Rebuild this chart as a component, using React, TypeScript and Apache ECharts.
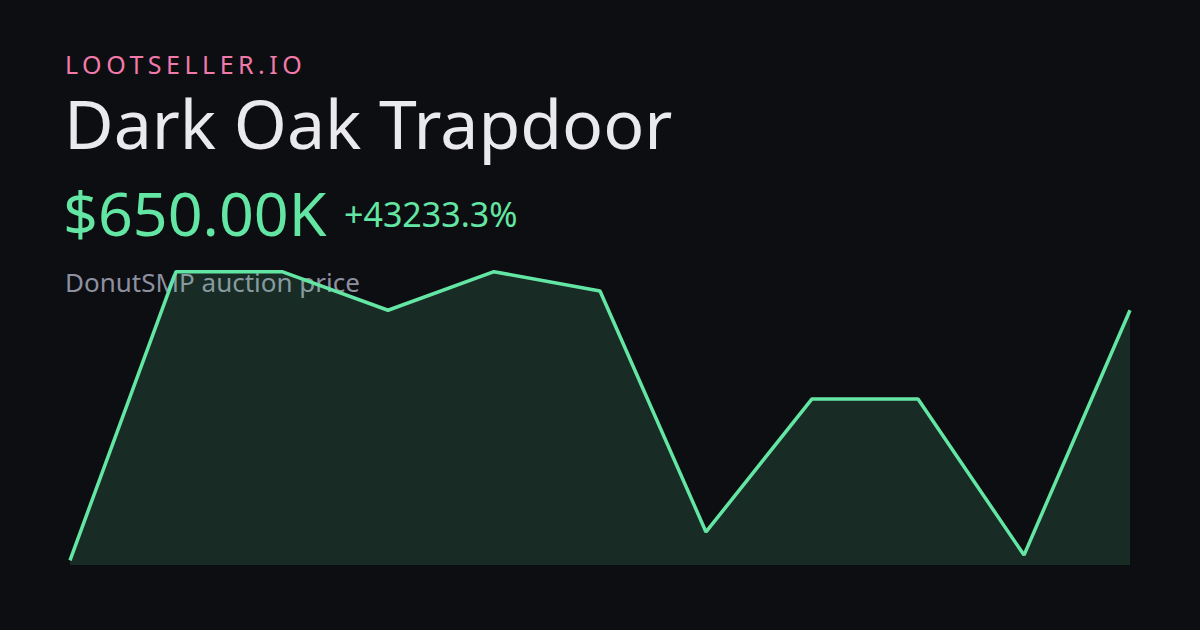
import React, { useEffect, useRef } from "react";
import * as echarts from "echarts";

const categories = ["1", "2", "3", "4", "5", "6", "7", "8", "9", "10", "11"];
const prices = [1500, 750000, 750000, 650000, 750000, 700000, 75000, 420000, 420000, 15000, 650000];
const brand = "LOOTSELLER.IO";
const itemName = "Dark Oak Trapdoor";
const priceLabel = "$650.00K";
const changeLabel = "+43233.3%";
const subLabel = "DonutSMP auction price";

const GREEN = "#63e6a4";
const FONT = "'Noto Sans', 'Open Sans', sans-serif";

export default function App() {
  const ref = useRef<HTMLDivElement>(null);
  useEffect(() => {
    if (!ref.current) return;
    const chart = echarts.init(ref.current, null, { renderer: "svg" });
    chart.setOption({
      animation: false,
      backgroundColor: "#0d0e11",
      grid: { left: 70, right: 70, top: 270, bottom: 65 },
      xAxis: {
        type: "category",
        data: categories,
        boundaryGap: false,
        show: false,
      },
      yAxis: {
        type: "value",
        min: -10700,
        max: 754400,
        show: false,
        splitLine: { show: false },
      },
      graphic: [
        {
          type: "text",
          z: 0,
          x: 65,
          y: 64,
          style: {
            text: brand,
            fill: "#f07aa9",
            font: `400 25px ${FONT}`,
            lineHeight: 22,
            verticalAlign: "middle",
          },
        },
        {
          type: "text",
          z: 0,
          x: 64,
          y: 122,
          style: {
            text: itemName,
            fill: "#e9e9ee",
            font: `400 68px ${FONT}`,
            lineHeight: 64,
            verticalAlign: "middle",
          },
        },
        {
          type: "text",
          z: 0,
          x: 63,
          y: 212,
          style: {
            text: priceLabel,
            fill: GREEN,
            font: `400 61px ${FONT}`,
            lineHeight: 58,
            verticalAlign: "middle",
          },
        },
        {
          type: "text",
          z: 0,
          x: 344,
          y: 214,
          style: {
            text: changeLabel,
            fill: GREEN,
            font: `400 34px ${FONT}`,
            lineHeight: 32,
            verticalAlign: "middle",
          },
        },
        {
          type: "text",
          z: 0,
          x: 65,
          y: 282,
          style: {
            text: subLabel,
            fill: "#8d90a0",
            font: `400 26px ${FONT}`,
            lineHeight: 26,
            verticalAlign: "middle",
          },
        },
      ],
      series: [
        {
          type: "line",
          z: 2,
          data: prices,
          symbol: "none",
          lineStyle: { color: GREEN, width: 3.5 },
          areaStyle: { color: "rgba(94,227,161,0.2)", origin: "start" },
        },
      ],
    });
    const applySpacing = () => {
      const dom = chart.getDom();
      dom.querySelectorAll("text").forEach((t) => {
        if (t.textContent === brand) t.setAttribute("letter-spacing", "4.5");
      });
    };
    applySpacing();
    chart.on("finished", applySpacing);
    return () => chart.dispose();
  }, []);
  return <div ref={ref} style={{ width: 1200, height: 630, position: "fixed", left: 0, top: 0 }} />;
}
